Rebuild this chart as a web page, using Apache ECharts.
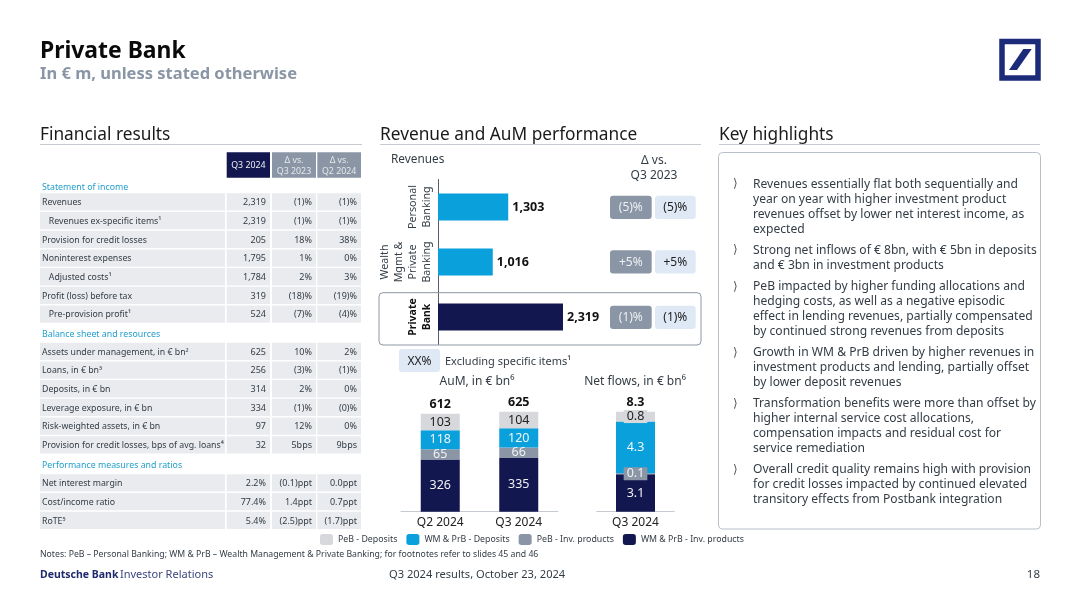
<!DOCTYPE html>
<html>
<head>
<meta charset="utf-8">
<title>Private Bank</title>
<script src="https://cdn.jsdelivr.net/npm/echarts@6/dist/echarts.min.js"></script>
<style>
html, body { margin: 0; padding: 0; background: #fff; }
#main { width: 1080px; height: 607px; }
</style>
</head>
<body>
<div id="main"></div>
<script>
// revenue bars
var revenueCats = ['Personal\nBanking', 'Wealth\nMgmt &\nPrivate\nBanking', 'Private\nBank'];
var revenueValues = [1303, 1016, 2319];
var revenueDeltas = ['(5)%', '+5%', '(1)%'];
var revenueDeltasEx = ['(5)%', '+5%', '(1)%'];

// AuM stack
var aumCats = ['Q2 2024', 'Q3 2024'];
var aumWmInv = [326, 335];
var aumPebInv = [65, 66];
var aumWmDep = [118, 120];
var aumPebDep = [103, 104];
var aumTotal = [612, 625];

// net flows stack
var flowCats = ['Q3 2024'];
var flowWmInv = [3.1];
var flowPebInv = [0.1];
var flowWmDep = [4.3];
var flowPebDep = [0.8];
var flowTotal = [8.3];

// table
var incomeRows = [
    ['Revenues', '2,319', '(1)%', '(1)%'],
    ['   Revenues ex-specific items¹', '2,319', '(1)%', '(1)%'],
    ['Provision for credit losses', '205', '18%', '38%'],
    ['Noninterest expenses', '1,795', '1%', '0%'],
    ['   Adjusted costs¹', '1,784', '2%', '3%'],
    ['Profit (loss) before tax', '319', '(18)%', '(19)%'],
    ['   Pre-provision profit¹', '524', '(7)%', '(4)%']
];
var balanceRows = [
    ['Assets under management, in € bn²', '625', '10%', '2%'],
    ['Loans, in € bn³', '256', '(3)%', '(1)%'],
    ['Deposits, in € bn', '314', '2%', '0%'],
    ['Leverage exposure, in € bn', '334', '(1)%', '(0)%'],
    ['Risk-weighted assets, in € bn', '97', '12%', '0%'],
    ['Provision for credit losses, bps of avg. loans⁴', '32', '5bps', '9bps']
];
var ratioRows = [
    ['Net interest margin', '2.2%', '(0.1)ppt', '0.0ppt'],
    ['Cost/income ratio', '77.4%', '1.4ppt', '0.7ppt'],
    ['RoTE⁵', '5.4%', '(2.5)ppt', '(1.7)ppt']
];

// highlights, one list per bullet
var highlights = [
    ['Revenues essentially flat both sequentially and', 'year on year with higher investment product', 'revenues offset by lower net interest income, as', 'expected'],
    ['Strong net inflows of € 8bn, with € 5bn in deposits', 'and € 3bn in investment products'],
    ['PeB impacted by higher funding allocations and', 'hedging costs, as well as a negative episodic', 'effect in lending revenues, partially compensated', 'by continued strong revenues from deposits'],
    ['Growth in WM & PrB driven by higher revenues in', 'investment products and lending, partially offset', 'by lower deposit revenues'],
    ['Transformation benefits were more than offset by', 'higher internal service cost allocations,', 'compensation impacts and residual cost for', 'service remediation'],
    ['Overall credit quality remains high with provision', 'for credit losses impacted by continued elevated', 'transitory effects from Postbank integration']
];
var highlightTops = [183.5, 249.5, 286, 352, 403, 469];

var FONT = '"Noto Sans"';
var NAVY = '#12174f', BLUE = '#0aa0dc', GREY = '#8a96a5', LIGHT = '#d6d8db';
var INK = '#333c45';

var gfx = [];

function txt(x, y, text, size, color, opt) {
    opt = opt || {};
    gfx.push({
        type: 'text',
        z: 10,
        style: {
            x: x, y: y + 0.7, text: text, fill: color || INK,
            font: (opt.weight || 'normal') + ' ' + size + 'px ' + (opt.family || FONT),
            align: opt.align || 'left',
            verticalAlign: 'middle',
            lineHeight: opt.lineHeight
        }
    });
}
function box(x, y, w, h, fill, stroke, r) {
    gfx.push({
        type: 'rect',
        z: 5,
        shape: { x: x, y: y, width: w, height: h, r: r || 0 },
        style: { fill: fill || 'none', stroke: stroke || 'none', lineWidth: stroke ? 1 : 0 }
    });
}

// header
txt(40, 51, 'Private Bank', 22.9, '#0a0a0a', { weight: 'bold' });
txt(40, 74, 'In € m, unless stated otherwise', 16.5, GREY, { weight: 'bold' });

// logo
gfx.push({
    type: 'rect', z: 5,
    shape: { x: 1002, y: 41.5, width: 36, height: 36.5 },
    style: { fill: '#fff', stroke: '#1c2a7a', lineWidth: 5.5 }
});
gfx.push({
    type: 'polygon', z: 6,
    shape: { points: [[1023.3, 49], [1031.7, 49], [1017, 70], [1009, 70]] },
    style: { fill: '#1c2a7a' }
});

// section titles
[['Financial results', 40, 362], ['Revenue and AuM performance', 380, 701], ['Key highlights', 719, 1040]].forEach(function (s) {
    txt(s[1], 134, s[0], 17.3, '#1a1a1a');
    gfx.push({
        type: 'line', z: 5,
        shape: { x1: s[1], y1: 144.5, x2: s[2], y2: 144.5 },
        style: { stroke: '#c6cbd1', lineWidth: 1.2 }
    });
});

// table
var colX = [226.7, 272, 317.3];
var colW = [43.3, 44, 43.7];
var ROW_H = 17.3, ROW_STEP = 18.7;

box(colX[0], 152.3, colW[0], 25.4, NAVY);
box(colX[1], 152.3, colW[1], 25.4, GREY);
box(colX[2], 152.3, colW[2], 25.4, GREY);
txt(colX[0] + colW[0] / 2, 165, 'Q3 2024', 8.8, '#f0f1f5', { align: 'center' });
txt(colX[1] + colW[1] / 2, 165, 'Δ vs.\nQ3 2023', 8.8, '#e6e9ec', { align: 'center', lineHeight: 11 });
txt(colX[2] + colW[2] / 2, 165, 'Δ vs.\nQ2 2024', 8.8, '#e6e9ec', { align: 'center', lineHeight: 11 });

function section(title, titleY, rows, top) {
    txt(42, titleY, title, 8.8, '#229fcb');
    rows.forEach(function (r, i) {
        var y = top + i * ROW_STEP;
        var mid = y + ROW_H / 2;
        box(40, y, 185, ROW_H, '#e9ebee');
        box(colX[0], y, colW[0], ROW_H, '#e9ebee');
        box(colX[1], y, colW[1], ROW_H, '#e9ebee');
        box(colX[2], y, colW[2], ROW_H, '#e9ebee');
        txt(42, mid, r[0], 8.75);
        txt(colX[0] + colW[0] - 4, mid, r[1], 9, INK, { align: 'right' });
        txt(colX[1] + colW[1] - 4, mid, r[2], 9, INK, { align: 'right' });
        txt(colX[2] + colW[2] - 4, mid, r[3], 9, INK, { align: 'right' });
    });
}
section('Statement of income', 186.7, incomeRows, 193.3);
section('Balance sheet and resources', 334, balanceRows, 342.7);
section('Performance measures and ratios', 465, ratioRows, 474.3);

// revenue panel
txt(391, 159, 'Revenues', 11.8, INK);
txt(654, 167.5, 'Δ vs.\nQ3 2023', 12, INK, { align: 'center', lineHeight: 15 });
box(379, 292.7, 322, 52.3, null, '#8d98a4', 4);
revenueDeltas.forEach(function (d, i) {
    var y = [195.7, 250.3, 305.7][i];
    box(610, y, 41.7, 23.3, GREY, null, 3);
    box(655, y, 40.7, 23.3, '#dfe9f6', null, 3);
    txt(630.8, y + 11.6, d, 12, '#eef0f3', { align: 'center' });
    txt(675.3, y + 11.6, revenueDeltasEx[i], 12, '#222', { align: 'center' });
});

box(399, 349, 41, 23, '#dfe9f6', null, 3);
txt(419.5, 361, 'XX%', 12, '#222', { align: 'center' });
txt(445, 361, 'Excluding specific items¹', 11, INK);
txt(477, 381, 'AuM, in € bn⁶', 12, INK, { align: 'center' });
txt(635, 381, 'Net flows, in € bn⁶', 12, INK, { align: 'center' });

// highlights box and bullets
box(718.5, 152.5, 322, 376.5, null, '#b9bfc6', 4);
highlights.forEach(function (lines, b) {
    txt(733, highlightTops[b], '⟩', 12, '#555', { family: '"DejaVu Sans"' });
    lines.forEach(function (line, i) {
        txt(753, highlightTops[b] + i * 15, line, 12.1, INK);
    });
});

// footer
txt(40, 554, 'Notes: PeB – Personal Banking; WM & PrB – Wealth Management & Private Banking; for footnotes refer to slides 45 and 46', 8.7, INK);
txt(40, 574, 'Deutsche Bank', 10.5, '#1e2a6e', { weight: 'bold' });
txt(120, 574, 'Investor Relations', 11, '#3b4680');
txt(389, 574, 'Q3 2024 results, October 23, 2024', 11.1, INK);
txt(1040, 574, '18', 11.5, INK, { align: 'right' });

function segment(name, values, color, gridIndex, labelColor, labelBg) {
    var label = { show: true, color: labelColor, fontFamily: FONT, fontSize: 12.5, position: 'inside' };
    if (labelBg) {
        label.backgroundColor = labelBg;
        label.padding = [0, 3];
    }
    return {
        name: name,
        type: 'bar',
        stack: 'g' + gridIndex,
        xAxisIndex: gridIndex,
        yAxisIndex: gridIndex,
        barWidth: 39,
        itemStyle: { color: color },
        label: label,
        data: values,
        silent: true
    };
}
function totalSeries(values, gridIndex) {
    return {
        type: 'line',
        xAxisIndex: gridIndex,
        yAxisIndex: gridIndex,
        symbol: 'circle',
        symbolSize: 1,
        showSymbol: true,
        lineStyle: { opacity: 0 },
        itemStyle: { color: 'transparent' },
        label: {
            show: true, position: 'top', distance: 2,
            color: '#111', fontFamily: FONT, fontSize: 12.5, fontWeight: 'bold'
        },
        data: values,
        silent: true,
        z: 6
    };
}
function stackAxis(cats, gridIndex) {
    return {
        type: 'category',
        gridIndex: gridIndex,
        data: cats,
        axisTick: { show: false },
        axisLine: { lineStyle: { color: '#c6cbd1', width: 1 } },
        axisLabel: { color: '#222', fontFamily: FONT, fontSize: 12, margin: 5 }
    };
}

var option = {
    animation: false,
    textStyle: { fontFamily: FONT },
    graphic: { elements: gfx },
    legend: {
        left: 315,
        top: 529,
        itemWidth: 13,
        itemHeight: 11,
        itemGap: 9,
        textStyle: { color: INK, fontFamily: FONT, fontSize: 8.8 },
        selectedMode: false,
        data: ['PeB - Deposits', 'WM & PrB - Deposits', 'PeB - Inv. products', 'WM & PrB - Inv. products']
    },
    grid: [
        { left: 438, top: 179.5, width: 161.7, height: 165 },
        { left: 401, top: 399.7, width: 157, height: 112 },
        { left: 596.7, top: 399.7, width: 77.6, height: 112 }
    ],
    xAxis: [
        { type: 'value', gridIndex: 0, min: 0, max: 3000, show: false },
        stackAxis(aumCats, 1),
        stackAxis(flowCats, 2)
    ],
    yAxis: [
        {
            type: 'category',
            gridIndex: 0,
            inverse: true,
            data: revenueCats,
            axisTick: { show: false },
            axisLine: { lineStyle: { color: '#555f69', width: 1 } },
            axisLabel: {
                interval: 0,
                hideOverlap: false,
                rotate: 90,
                margin: 4,
                color: INK,
                fontFamily: FONT,
                fontSize: 10.7,
                lineHeight: 14,
                formatter: function (v) {
                    if (v === 'Private\nBank') return '{b|Private}\n{b|Bank}';
                    return v;
                },
                rich: { b: { fontWeight: 'bold', color: '#111', fontFamily: FONT, fontSize: 10.5, lineHeight: 14 } }
            }
        },
        { type: 'value', gridIndex: 1, min: 0, max: 700, show: false },
        { type: 'value', gridIndex: 2, min: 0, max: 9.3, show: false }
    ],
    series: [
        {
            type: 'bar',
            xAxisIndex: 0,
            yAxisIndex: 0,
            barWidth: 27,
            data: revenueValues.map(function (v, i) {
                return { value: v, itemStyle: { color: i === 2 ? NAVY : BLUE } };
            }),
            label: {
                show: true,
                position: 'right',
                distance: 4,
                color: '#111',
                fontFamily: FONT,
                fontSize: 12.5,
                fontWeight: 'bold',
                formatter: function (p) { return p.value.toLocaleString('en-US'); }
            },
            silent: true
        },
        segment('WM & PrB - Inv. products', aumWmInv, NAVY, 1, '#f0f1f5'),
        segment('PeB - Inv. products', aumPebInv, GREY, 1, '#f0f1f5'),
        segment('WM & PrB - Deposits', aumWmDep, BLUE, 1, '#eef6fb'),
        segment('PeB - Deposits', aumPebDep, LIGHT, 1, '#222'),
        totalSeries(aumTotal, 1),
        segment('WM & PrB - Inv. products', flowWmInv, NAVY, 2, '#f0f1f5'),
        segment('PeB - Inv. products', flowPebInv, GREY, 2, '#f0f1f5', GREY),
        segment('WM & PrB - Deposits', flowWmDep, BLUE, 2, '#eef6fb'),
        segment('PeB - Deposits', flowPebDep, LIGHT, 2, '#222', LIGHT),
        totalSeries(flowTotal, 2)
    ]
};

var chart = echarts.init(document.getElementById('main'));
chart.setOption(option);
</script>
</body>
</html>
